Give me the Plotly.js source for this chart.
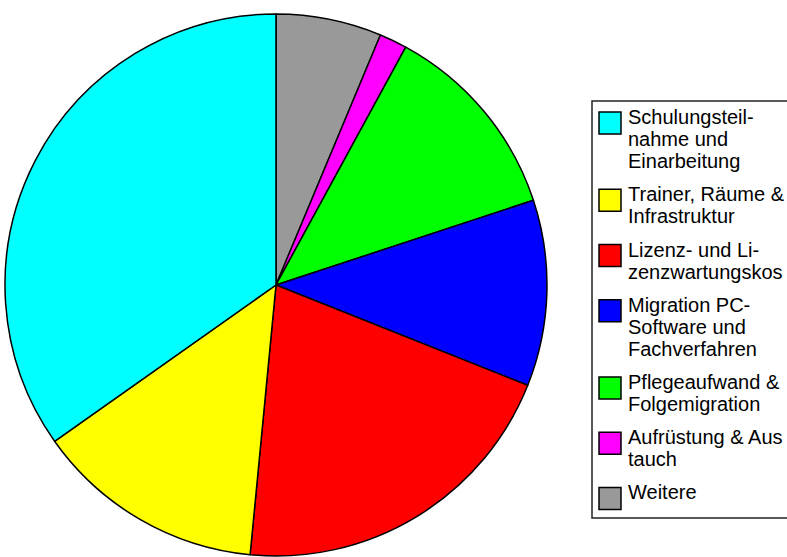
<!DOCTYPE html>
<html>
<head>
<meta charset="utf-8">
<script src="https://cdn.plot.ly/plotly-3.0.1.min.js"></script>
<style>
  html, body { margin: 0; padding: 0; background: #ffffff; overflow: hidden; }
  #chart { width: 787px; height: 557px; }
</style>
</head>
<body>
<div id="chart"></div>
<script>
// ---- data ----
const labels = [
  'Schulungsteilnahme und Einarbeitung',
  'Trainer, Räume & Infrastruktur',
  'Lizenz- und Lizenzwartungskosten',
  'Migration PC-Software und Fachverfahren',
  'Pflegeaufwand & Folgemigration',
  'Aufrüstung & Austausch',
  'Weitere'
];
const legendLines = [
  ['Schulungsteil-', 'nahme und', 'Einarbeitung'],
  ['Trainer, Räume &', 'Infrastruktur'],
  ['Lizenz- und Li-', 'zenzwartungskos'],
  ['Migration PC-', 'Software und', 'Fachverfahren'],
  ['Pflegeaufwand &', 'Folgemigration'],
  ['Aufrüstung & Aus', 'tauch'],
  ['Weitere']
];
const values = [34.8, 13.7, 20.5, 11.1, 12.0, 1.65, 6.3];
const colors = ['#00FFFF', '#FFFF00', '#FF0000', '#0000FF', '#00FF00', '#FF00FF', '#999999'];

// ---- layout constants ----
const W = 787, H = 557;
const cx = 276, cy = 285, r = 271;
const px = x => x / W;
const py = y => 1 - y / H;

const FONT = "'Liberation Sans', Arial, sans-serif";
const FS = 20;          // glyph size
const BASE_FS = 17;     // sets line spacing (1.3 * 17 ≈ 22 px)
const sqX = 599, sqSize = 22, textX = 627;
const lineH = 22.1, itemGap = 11;
let itemTop = 112;

const shapes = [{
  type: 'rect', xref: 'paper', yref: 'paper',
  x0: px(592), x1: px(820), y0: py(101), y1: py(518),
  line: { color: '#222222', width: 1.5 }, fillcolor: 'rgba(0,0,0,0)', layer: 'below'
}];
const annotations = [];

legendLines.forEach((lines, i) => {
  shapes.push({
    type: 'rect', xref: 'paper', yref: 'paper',
    x0: px(sqX), x1: px(sqX + sqSize), y0: py(itemTop), y1: py(itemTop + sqSize),
    line: { color: '#000000', width: 1.5 }, fillcolor: colors[i]
  });
  annotations.push({
    xref: 'paper', yref: 'paper', x: px(textX), y: py(itemTop - 7),
    xanchor: 'left', yanchor: 'top', align: 'left', showarrow: false,
    text: lines.map(t => '<span style="font-size:' + FS + 'px">' + t + '</span>').join('<br>'),
    font: { family: FONT, size: BASE_FS, color: '#000000' }, borderpad: 0
  });
  itemTop += lines.length * lineH + itemGap;
});

// pie drawn clockwise from 12 o'clock in reverse series order (Excel-style: first series counter-clockwise from top)
const trace = {
  type: 'pie',
  labels: labels.slice().reverse(),
  values: values.slice().reverse(),
  sort: false,
  direction: 'clockwise',
  rotation: 0,
  textinfo: 'none',
  hoverinfo: 'label+percent',
  showlegend: false,
  marker: { colors: colors.slice().reverse(), line: { color: '#000000', width: 1.5 } },
  domain: { x: [px(cx - r), px(cx + r)], y: [1 - (cy + r) / H, 1 - (cy - r) / H] }
};

const layout = {
  width: W, height: H,
  margin: { l: 0, r: 0, t: 0, b: 0, pad: 0 },
  paper_bgcolor: '#ffffff',
  showlegend: false,
  shapes: shapes,
  annotations: annotations
};

Plotly.newPlot('chart', [trace], layout, { displayModeBar: false, staticPlot: true });
</script>
</body>
</html>
